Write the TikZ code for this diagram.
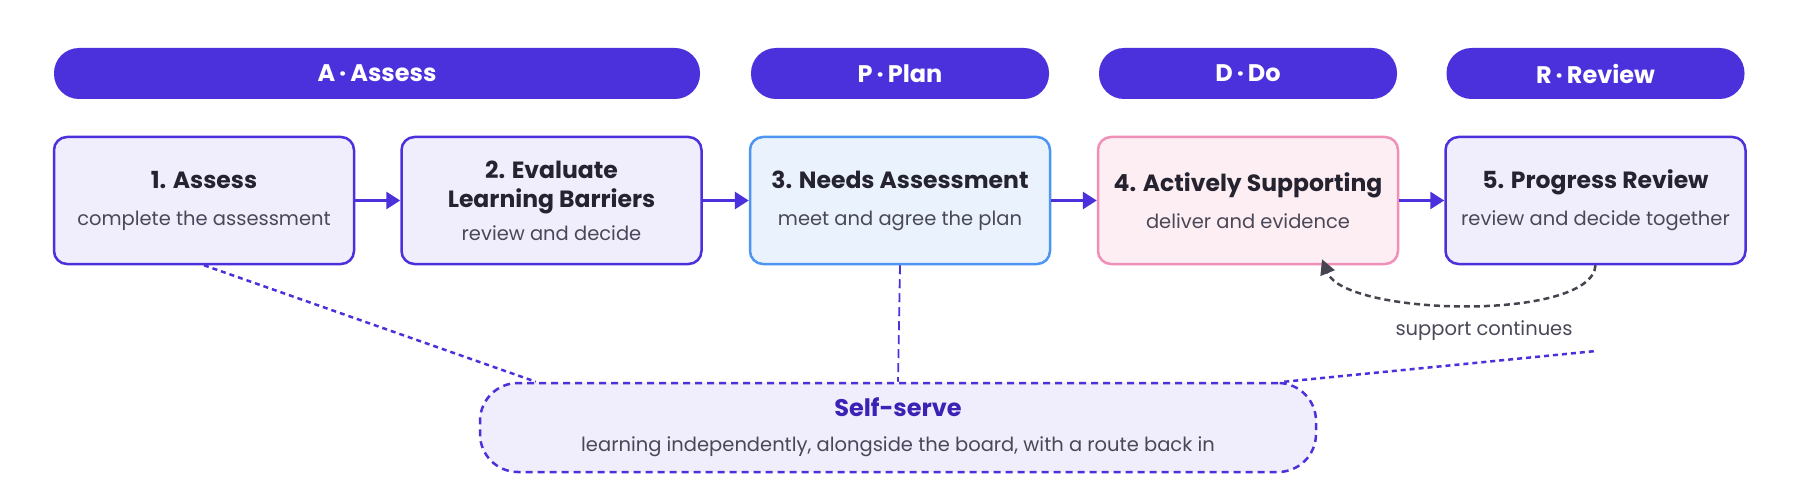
\documentclass[tikz,border=0pt]{standalone}
\usepackage{fontspec}
\setmainfont{Poppins}
\usetikzlibrary{arrows.meta}
\definecolor{indigo}{HTML}{4B31DB}
\definecolor{lav}{HTML}{F0EDFD}
\definecolor{skyline}{HTML}{4D94F3}
\definecolor{skyfill}{HTML}{EAF2FD}
\definecolor{pinkline}{HTML}{F08FB8}
\definecolor{pinkfill}{HTML}{FDEEF3}
\definecolor{ink}{HTML}{25232F}
\definecolor{subink}{HTML}{4A4858}
\definecolor{sstitle}{HTML}{3B22B5}
\definecolor{loopgray}{HTML}{45444F}
\newcommand{\ttl}[1]{{\fontsize{23.5}{28}\selectfont\bfseries\color{ink}#1}}
\newcommand{\sub}[1]{{\fontsize{19.5}{24}\selectfont\color{subink}#1}}
\begin{document}
\begin{tikzpicture}[x=1pt,y=-1pt]
      \useasboundingbox (0,0) rectangle (1800,500);
      % phase bars
      \begin{scope}[every node/.style={fill=indigo,text=white,rounded corners=25pt,minimum height=51pt,
          font=\fontsize{24}{28}\selectfont\bfseries}]
        \node[minimum width=646pt] (hA) at (377,73.5) {A\,·\,Assess};
        \node[minimum width=298pt] (hP) at (900,73.5) {P\,·\,Plan};
        \node[minimum width=298pt] (hD) at (1248,73.5) {D\,·\,Do};
        \node[minimum width=298pt] (hR) at (1595.5,73.5) {R\,·\,Review};
      \end{scope}
      % stages
      \begin{scope}[every node/.style={draw=indigo,fill=lav,line width=2.5pt,rounded corners=13pt,
          minimum width=300pt,minimum height=127pt,align=center,font=\fontsize{19.5}{24}\selectfont}]
        \node (s1) at (204,200.5) {\ttl{1. Assess}\\[13pt]\sub{complete the assessment}};
        \node (s2) at (551.5,200.5) {\ttl{2. Evaluate}\\[5pt]\ttl{Learning Barriers}\\[9pt]\sub{review and decide}};
        \node[draw=skyline,fill=skyfill] (s3) at (900,200.5) {\ttl{3. Needs Assessment}\\[13pt]\sub{meet and agree the plan}};
        \node[draw=pinkline,fill=pinkfill] (s4) at (1248,200.5) {\ttl{4. Actively Supporting}\\[13pt]\sub{deliver and evidence}};
        \node (s5) at (1595.5,200.5) {\ttl{5. Progress Review}\\[13pt]\sub{review and decide together}};
      \end{scope}
      \node[draw=indigo,fill=lav,line width=2.5pt,dash pattern=on 7pt off 5pt,rounded corners=38pt,
          minimum width=836pt,minimum height=89pt,align=center,font=\fontsize{19.5}{24}\selectfont]
          (self) at (898,427.5) {{\fontsize{24}{28}\selectfont\bfseries\color{sstitle}Self-serve}\\[11pt]\sub{learning independently, alongside the board, with a route back in}};
      \node[text=subink,font=\fontsize{19.5}{24}\selectfont] (cont) at (1484,331) {support continues};
      \coordinate (back) at (1596,351);
      % flow
      \begin{scope}[every edge/.style={draw=indigo,line width=3pt,-{Triangle[length=14pt,width=17pt]}}]
        \path (s1) edge (s2);
        \path (s2) edge (s3);
        \path (s3) edge (s4);
        \path (s4) edge (s5);
      \end{scope}
      % links to self-serve
      \begin{scope}[every edge/.style={draw=indigo,line width=2.5pt,dash pattern=on 5pt off 4pt}]
        \path (s1.south) edge ([xshift=57pt]self.north west);
        \path (s3.south) edge[line width=1.8pt,dash pattern=on 9pt off 5pt] (self.north);
        \path ([xshift=-33pt]self.north east) edge (back);
      \end{scope}
      \draw[loopgray,line width=2.5pt,dash pattern=on 6pt off 4pt,-{Triangle[length=15pt,width=15pt]}]
        (s5.south) .. controls (1592,322) and (1345,316) .. ([xshift=74pt,yshift=6pt]s4.south);
\end{tikzpicture}
\end{document}
